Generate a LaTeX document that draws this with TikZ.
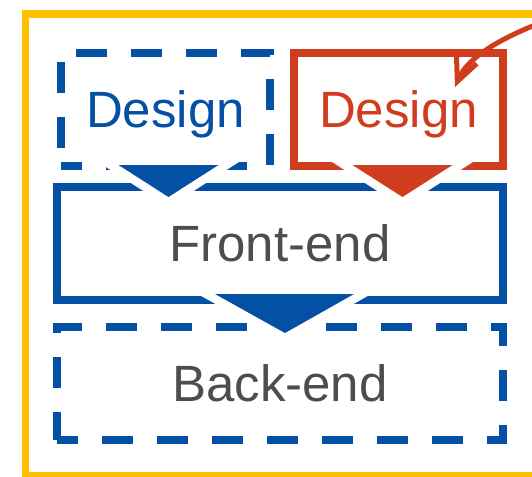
\documentclass[tikz,border=0pt]{standalone}
\usepackage{fontspec}
\setmainfont{Liberation Sans}
\usepackage{xcolor}
\usepackage{tikz}
\usetikzlibrary{positioning,calc,arrows.meta}

\definecolor{flowblue}{HTML}{0450A4}
\definecolor{flowred}{HTML}{D03C1E}
\definecolor{flowgrey}{HTML}{4D4D4D}
\definecolor{frameyellow}{HTML}{FFC000}

\begin{document}
\begin{tikzpicture}[x=1pt, y=-1pt, font=\fontsize{51}{60}\selectfont,
    stage/.style={draw=flowblue, line width=7.5pt, rectangle, inner sep=0pt, outer sep=0pt,
        minimum height=113pt, text height=36.5pt, text depth=0pt, text=flowgrey},
    dashstage/.style={stage, dash pattern=on 31pt off 24pt, dash phase=10pt},
    pointer/.style={preaction={draw=white, line width=17pt, line join=miter}}]
    \useasboundingbox (0,0) rectangle (532,476);

    % outer frame
    \draw[frameyellow, line width=7.5pt] (25.5,14) rectangle (560,476);

    \node[stage, minimum width=446pt] (front) at (280,243.5) {Front-end};
    \node[dashstage, minimum width=446pt, below=27pt of front] (back) {Back-end};
    \node[dashstage, minimum width=209pt, text=flowblue] (dsgnA) at (165.5,109.5) {Design};
    \node[stage, minimum width=209pt, draw=flowred, text=flowred, right=24pt of dsgnA] (dsgnB) {Design};

    % flow pointers
    \fill[flowblue, pointer] ($(dsgnA.south)+(-47,-1)$) -- ++(100,0) -- ($(dsgnA.south)+(3,31)$) -- cycle;
    \fill[flowred, pointer] ($(dsgnB.south)+(-46,-1)$) -- ++(100,0) -- ($(dsgnB.south)+(4,31)$) -- cycle;
    \fill[flowblue, pointer] ($(front.south)+(-65,-6)$) -- ++(139,0) -- ($(front.south)+(5,33)$) -- cycle;

    % incoming arrow
    \coordinate (src) at (548,20);
    \coordinate (hit) at (455,87);
    \draw[flowred, line width=5pt, -{Straight Barb[length=24pt, width=22pt]}]
        (src) .. controls (505,36) and (468,56) .. (hit);
\end{tikzpicture}
\end{document}
